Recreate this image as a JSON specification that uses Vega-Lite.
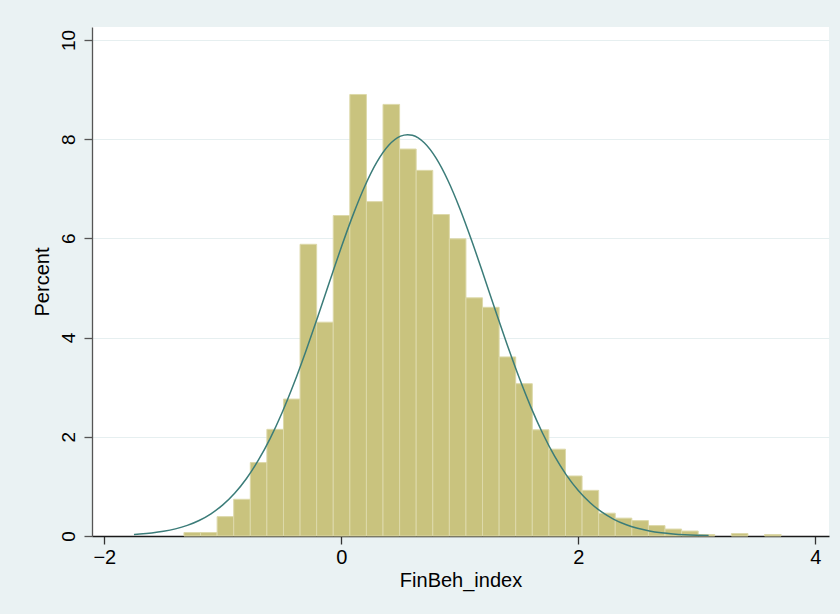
{
  "$schema": "https://vega.github.io/schema/vega-lite/v6.json",
  "width": 737,
  "height": 509,
  "autosize": {"type": "none"},
  "padding": {"left": 92, "top": 27, "right": 11, "bottom": 78},
  "background": "#EAF2F3",
  "config": {
    "view": {"fill": "#FFFFFF", "stroke": null},
    "font": "Liberation Sans",
    "axis": {"labelFont": "Liberation Sans", "titleFont": "Liberation Sans", "titleFontWeight": "normal", "labelColor": "#000000", "titleColor": "#000000"}
  },
  "datasets": {
    "bins": [
      {"start": -1.328, "end": -1.188, "pct": 0.07},
      {"start": -1.188, "end": -1.048, "pct": 0.07},
      {"start": -1.048, "end": -0.908, "pct": 0.39},
      {"start": -0.908, "end": -0.768, "pct": 0.74},
      {"start": -0.768, "end": -0.628, "pct": 1.48},
      {"start": -0.628, "end": -0.488, "pct": 2.15},
      {"start": -0.488, "end": -0.348, "pct": 2.76},
      {"start": -0.348, "end": -0.208, "pct": 5.88},
      {"start": -0.208, "end": -0.068, "pct": 4.31},
      {"start": -0.068, "end": 0.072, "pct": 6.46},
      {"start": 0.072, "end": 0.212, "pct": 8.90},
      {"start": 0.212, "end": 0.352, "pct": 6.74},
      {"start": 0.352, "end": 0.492, "pct": 8.70},
      {"start": 0.492, "end": 0.632, "pct": 7.80},
      {"start": 0.632, "end": 0.772, "pct": 7.37},
      {"start": 0.772, "end": 0.912, "pct": 6.48},
      {"start": 0.912, "end": 1.052, "pct": 5.99},
      {"start": 1.052, "end": 1.192, "pct": 4.80},
      {"start": 1.192, "end": 1.332, "pct": 4.61},
      {"start": 1.332, "end": 1.472, "pct": 3.61},
      {"start": 1.472, "end": 1.612, "pct": 3.07},
      {"start": 1.612, "end": 1.752, "pct": 2.14},
      {"start": 1.752, "end": 1.892, "pct": 1.75},
      {"start": 1.892, "end": 2.032, "pct": 1.21},
      {"start": 2.032, "end": 2.172, "pct": 0.92},
      {"start": 2.172, "end": 2.312, "pct": 0.46},
      {"start": 2.312, "end": 2.452, "pct": 0.36},
      {"start": 2.452, "end": 2.592, "pct": 0.31},
      {"start": 2.592, "end": 2.732, "pct": 0.21},
      {"start": 2.732, "end": 2.872, "pct": 0.14},
      {"start": 2.872, "end": 3.012, "pct": 0.10},
      {"start": 3.012, "end": 3.152, "pct": 0.03},
      {"start": 3.292, "end": 3.432, "pct": 0.05},
      {"start": 3.572, "end": 3.712, "pct": 0.03}
    ],
    "curve": [
      {"x": -1.75, "d": 0.0298}, {"x": -1.7, "d": 0.0379}, {"x": -1.6, "d": 0.0602},
      {"x": -1.5, "d": 0.0939}, {"x": -1.4, "d": 0.1432}, {"x": -1.3, "d": 0.2138},
      {"x": -1.2, "d": 0.3127}, {"x": -1.1, "d": 0.4479}, {"x": -1.0, "d": 0.6281},
      {"x": -0.9, "d": 0.8624}, {"x": -0.8, "d": 1.1600}, {"x": -0.7, "d": 1.5271},
      {"x": -0.6, "d": 1.9689}, {"x": -0.5, "d": 2.4859}, {"x": -0.4, "d": 3.0733},
      {"x": -0.3, "d": 3.7208}, {"x": -0.2, "d": 4.4107}, {"x": -0.1, "d": 5.1198},
      {"x": 0.0, "d": 5.8200}, {"x": 0.1, "d": 6.4781}, {"x": 0.2, "d": 7.0605},
      {"x": 0.3, "d": 7.5356}, {"x": 0.4, "d": 7.8754}, {"x": 0.5, "d": 8.0595},
      {"x": 0.56, "d": 8.09}, {"x": 0.6, "d": 8.0764}, {"x": 0.7, "d": 7.9252},
      {"x": 0.8, "d": 7.6151}, {"x": 0.9, "d": 7.1652}, {"x": 1.0, "d": 6.6016},
      {"x": 1.1, "d": 5.9560}, {"x": 1.2, "d": 5.2616}, {"x": 1.3, "d": 4.5519},
      {"x": 1.4, "d": 3.8559}, {"x": 1.5, "d": 3.1984}, {"x": 1.6, "d": 2.5979},
      {"x": 1.7, "d": 2.0665}, {"x": 1.8, "d": 1.6093}, {"x": 1.9, "d": 1.2276},
      {"x": 2.0, "d": 0.9166}, {"x": 2.1, "d": 0.6703}, {"x": 2.2, "d": 0.4799},
      {"x": 2.3, "d": 0.3365}, {"x": 2.4, "d": 0.2311}, {"x": 2.5, "d": 0.1554},
      {"x": 2.6, "d": 0.1023}, {"x": 2.7, "d": 0.0660}, {"x": 2.8, "d": 0.0416},
      {"x": 2.9, "d": 0.0257}, {"x": 3.0, "d": 0.0156}, {"x": 3.1, "d": 0.009}
    ]
  },
  "layer": [
    {
      "data": {"name": "bins"},
      "mark": {"type": "rect", "fill": "#C9C37E", "stroke": "#DDD9AA", "strokeWidth": 1},
      "encoding": {
        "x": {
          "field": "start", "type": "quantitative",
          "scale": {"domain": [-2.104, 4.116], "nice": false, "zero": false},
          "axis": {
            "title": "FinBeh_index", "values": [-2, 0, 2, 4], "format": "d",
            "grid": false, "domainColor": "#1a1a1a", "domainWidth": 1.3,
            "tickColor": "#333333", "tickSize": 8, "tickWidth": 1.3,
            "labelFontSize": 20, "labelPadding": 3, "titleFontSize": 20, "titlePadding": 3
          }
        },
        "x2": {"field": "end"},
        "y": {
          "field": "pct", "type": "quantitative",
          "scale": {"domain": [0, 10.26], "nice": false},
          "axis": {
            "title": "Percent", "values": [0, 2, 4, 6, 8, 10], "format": "d",
            "grid": true, "gridColor": "#E6EFF0", "gridWidth": 1.2,
            "domainColor": "#555555", "domainWidth": 1.3,
            "tickColor": "#555555", "tickSize": 8, "tickWidth": 1.3,
            "labelAngle": -90, "labelAlign": "center", "labelBaseline": "bottom",
            "labelFontSize": 19, "labelPadding": 6, "titleFontSize": 20, "titlePadding": 7
          }
        },
        "y2": {"datum": 0}
      }
    },
    {
      "data": {"name": "curve"},
      "mark": {"type": "line", "color": "#3B7C79", "strokeWidth": 1.5, "interpolate": "monotone", "clip": true},
      "encoding": {
        "x": {"field": "x", "type": "quantitative"},
        "y": {"field": "d", "type": "quantitative"}
      }
    }
  ]
}
